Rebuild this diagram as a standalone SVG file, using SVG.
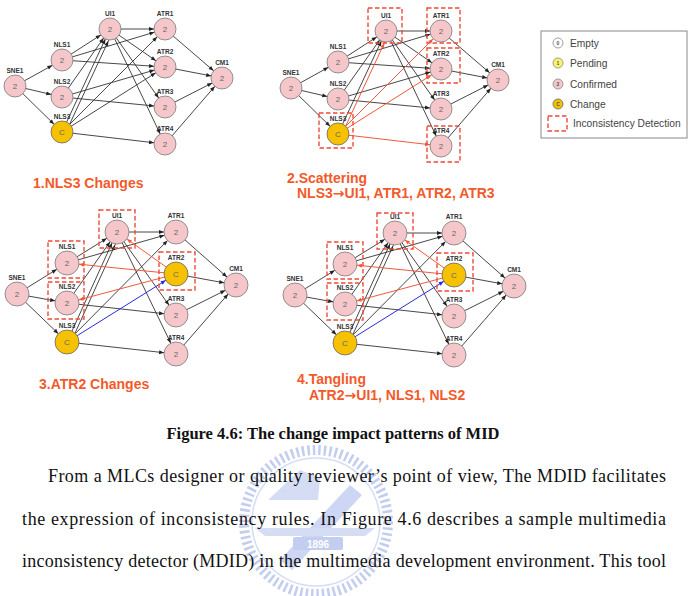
<svg xmlns="http://www.w3.org/2000/svg" width="688" height="596" viewBox="0 0 688 596">
<style>
.e{stroke:#333;stroke-width:0.9;fill:none}
.er{stroke:#f05a3c;stroke-width:1;fill:none}
.eb{stroke:#2a2ae0;stroke-width:1;fill:none}
.n circle{fill:#f5c6ca;stroke:#7a7a7a;stroke-width:0.8}
.c circle{fill:#f6c100;stroke:#666;stroke-width:0.8}
.lbl{font-family:"Liberation Sans",Arial,sans-serif;font-weight:bold;font-size:6.5px;fill:#333;text-anchor:middle}
.num{font-family:"Liberation Sans",Arial,sans-serif;font-size:8px;fill:#666;text-anchor:middle}
.box{fill:none;stroke:#ee4b3a;stroke-width:1.4;stroke-dasharray:4.5 2.5}
.title{font-family:"Liberation Sans",Arial,sans-serif;font-weight:bold;font-size:14px;fill:#f25a2a}
.arr{font-family:"DejaVu Sans",sans-serif;font-weight:bold}
.leg{font-family:"Liberation Sans",Arial,sans-serif;font-size:10.2px;fill:#444}
.legn{font-family:"Liberation Sans",Arial,sans-serif;font-weight:bold;font-size:5px;fill:#555;text-anchor:middle}
.body{font-family:"Liberation Serif","Times New Roman",serif;font-size:18px;fill:#111}
.cap{font-family:"Liberation Serif","Times New Roman",serif;font-weight:bold;font-size:16.5px;fill:#111;text-anchor:middle}
</style>
<defs>
<marker id="ak11" markerUnits="userSpaceOnUse" markerWidth="8" markerHeight="8" refX="11" refY="0" orient="auto" style="overflow:visible"><path d="M-5,-2 L0,0 L-5,2 z" fill="#222"/></marker>
<marker id="ar11" markerUnits="userSpaceOnUse" markerWidth="8" markerHeight="8" refX="11" refY="0" orient="auto" style="overflow:visible"><path d="M-5,-2 L0,0 L-5,2 z" fill="#f05a3c"/></marker>
<marker id="ak12" markerUnits="userSpaceOnUse" markerWidth="8" markerHeight="8" refX="12" refY="0" orient="auto" style="overflow:visible"><path d="M-5,-2 L0,0 L-5,2 z" fill="#222"/></marker>
<marker id="ar12" markerUnits="userSpaceOnUse" markerWidth="8" markerHeight="8" refX="12" refY="0" orient="auto" style="overflow:visible"><path d="M-5,-2 L0,0 L-5,2 z" fill="#f05a3c"/></marker>
<marker id="ab12" markerUnits="userSpaceOnUse" markerWidth="8" markerHeight="8" refX="12" refY="0" orient="auto" style="overflow:visible"><path d="M-5,-2 L0,0 L-5,2 z" fill="#2a2ae0"/></marker>
</defs>
<rect width="688" height="596" fill="#fff"/>

<!-- watermark -->
<g id="watermark" opacity="0.7">
<circle cx="316" cy="522" r="72" fill="none" stroke="#a9b9ea" stroke-width="10" stroke-dasharray="2.5 3"/>
<circle cx="316" cy="522" r="64" fill="none" stroke="#c4cff2" stroke-width="1.5"/>
<path d="M268,500 L300,470 L320,478 L318,500 Z" fill="#c4cff2"/>
<path d="M280,560 L350,485 L362,495 L292,570 Z" fill="#b8c6f0"/>
<path d="M255,528 L375,528 L365,536 L265,536 Z" fill="#c4cff2"/>
<rect x="293" y="537" width="50" height="13" rx="2" fill="#a9b9ea"/>
<text x="318" y="547.5" font-family="Liberation Sans,Arial,sans-serif" font-weight="bold" font-size="10" fill="#fff" text-anchor="middle">1896</text>
</g>

<g id="connectors">
<g id="p1-edges" class="e" marker-end="url(#ak11)">
<line x1="15" y1="86" x2="62" y2="60"/>
<line x1="15" y1="86" x2="62" y2="97"/>
<line x1="15" y1="86" x2="62" y2="132"/>
<line x1="62" y1="60" x2="110" y2="29"/>
<line x1="62" y1="60" x2="165" y2="29"/>
<line x1="62" y1="60" x2="165" y2="67"/>
<line x1="62" y1="97" x2="110" y2="29"/>
<line x1="62" y1="97" x2="165" y2="67"/>
<line x1="62" y1="97" x2="165" y2="107"/>
<line x1="62" y1="132" x2="110" y2="29"/>
<line x1="66" y1="132" x2="113" y2="31"/>
<line x1="62" y1="132" x2="165" y2="29"/>
<line x1="62" y1="132" x2="165" y2="67"/>
<line x1="62" y1="132" x2="165" y2="144"/>
<line x1="110" y1="29" x2="165" y2="29"/>
<line x1="110" y1="29" x2="165" y2="67"/>
<line x1="110" y1="29" x2="165" y2="107"/>
<line x1="110" y1="29" x2="165" y2="144"/>
<line x1="165" y1="29" x2="222" y2="78"/>
<line x1="165" y1="67" x2="222" y2="78"/>
<line x1="165" y1="107" x2="222" y2="78"/>
<line x1="165" y1="144" x2="222" y2="78"/>
</g>
<g id="p2-edges" transform="translate(276,2)">
<g class="e" marker-end="url(#ak11)">
<line x1="15" y1="86" x2="62" y2="60"/>
<line x1="15" y1="86" x2="62" y2="97"/>
<line x1="15" y1="86" x2="62" y2="132"/>
<line x1="62" y1="60" x2="110" y2="29"/>
<line x1="62" y1="60" x2="165" y2="29"/>
<line x1="62" y1="60" x2="165" y2="67"/>
<line x1="62" y1="97" x2="110" y2="29"/>
<line x1="62" y1="97" x2="165" y2="67"/>
<line x1="62" y1="97" x2="165" y2="107"/>
<line x1="62" y1="132" x2="110" y2="29"/>
<line x1="110" y1="29" x2="165" y2="29"/>
<line x1="110" y1="29" x2="165" y2="67"/>
<line x1="110" y1="29" x2="165" y2="107"/>
<line x1="110" y1="29" x2="165" y2="144"/>
<line x1="165" y1="29" x2="222" y2="78"/>
<line x1="165" y1="67" x2="222" y2="78"/>
<line x1="165" y1="107" x2="222" y2="78"/>
<line x1="165" y1="144" x2="222" y2="78"/>
</g>
<g class="er" marker-end="url(#ar11)">
<line x1="66" y1="132" x2="113" y2="31"/>
<line x1="62" y1="132" x2="165" y2="29"/>
<line x1="62" y1="132" x2="165" y2="67"/>
<line x1="62" y1="132" x2="165" y2="144"/>
</g>
</g>
<g id="p3-edges">
<g class="e" marker-end="url(#ak12)">
<line x1="17" y1="294" x2="67" y2="263"/>
<line x1="17" y1="294" x2="67" y2="303"/>
<line x1="17" y1="294" x2="67" y2="342"/>
<line x1="67" y1="263" x2="117" y2="232"/>
<line x1="67" y1="263" x2="176" y2="232"/>
<line x1="67" y1="303" x2="117" y2="232"/>
<line x1="67" y1="303" x2="176" y2="315"/>
<line x1="67" y1="342" x2="117" y2="232"/>
<line x1="71" y1="342" x2="120" y2="234"/>
<line x1="67" y1="342" x2="176" y2="232"/>
<line x1="67" y1="342" x2="176" y2="354"/>
<line x1="117" y1="232" x2="176" y2="232"/>
<line x1="117" y1="232" x2="176" y2="315"/>
<line x1="117" y1="232" x2="176" y2="354"/>
<line x1="176" y1="232" x2="236" y2="285"/>
<line x1="176" y1="274" x2="236" y2="285"/>
<line x1="176" y1="315" x2="236" y2="285"/>
<line x1="176" y1="354" x2="236" y2="285"/>
</g>
<g class="er" marker-end="url(#ar12)">
<line x1="176" y1="274" x2="117" y2="232"/>
<line x1="176" y1="274" x2="67" y2="263"/>
<line x1="176" y1="274" x2="67" y2="303"/>
</g>
<line class="eb" x1="67" y1="342" x2="176" y2="274" marker-end="url(#ab12)"/>
</g>
<g id="p4-edges" transform="translate(278,1)">
<g class="e" marker-end="url(#ak12)">
<line x1="17" y1="294" x2="67" y2="263"/>
<line x1="17" y1="294" x2="67" y2="303"/>
<line x1="17" y1="294" x2="67" y2="342"/>
<line x1="67" y1="263" x2="117" y2="232"/>
<line x1="67" y1="263" x2="176" y2="232"/>
<line x1="67" y1="303" x2="117" y2="232"/>
<line x1="67" y1="303" x2="176" y2="315"/>
<line x1="67" y1="342" x2="117" y2="232"/>
<line x1="71" y1="342" x2="120" y2="234"/>
<line x1="67" y1="342" x2="176" y2="232"/>
<line x1="67" y1="342" x2="176" y2="354"/>
<line x1="117" y1="232" x2="176" y2="232"/>
<line x1="117" y1="232" x2="176" y2="315"/>
<line x1="117" y1="232" x2="176" y2="354"/>
<line x1="176" y1="232" x2="236" y2="285"/>
<line x1="176" y1="274" x2="236" y2="285"/>
<line x1="176" y1="315" x2="236" y2="285"/>
<line x1="176" y1="354" x2="236" y2="285"/>
</g>
<g class="er" marker-end="url(#ar12)">
<line x1="176" y1="274" x2="117" y2="232"/>
<line x1="176" y1="274" x2="67" y2="263"/>
<line x1="176" y1="274" x2="67" y2="303"/>
</g>
<line class="eb" x1="67" y1="342" x2="176" y2="274" marker-end="url(#ab12)"/>
</g>
</g>

<g id="panel1">
<g id="p1-SNE1" class="n"><circle cx="15" cy="86" r="11"/><text class="lbl" x="15" y="73">SNE1</text><text class="num" x="15" y="89">2</text></g>
<g id="p1-NLS1" class="n"><circle cx="62" cy="60" r="11"/><text class="lbl" x="62" y="47">NLS1</text><text class="num" x="62" y="63">2</text></g>
<g id="p1-NLS2" class="n"><circle cx="62" cy="97" r="11"/><text class="lbl" x="62" y="84">NLS2</text><text class="num" x="62" y="100">2</text></g>
<g id="p1-NLS3" class="c"><circle cx="62" cy="132" r="11"/><text class="lbl" x="62" y="119">NLS3</text><text class="num" x="62" y="135">C</text></g>
<g id="p1-UI1" class="n"><circle cx="110" cy="29" r="11"/><text class="lbl" x="110" y="16">UI1</text><text class="num" x="110" y="32">2</text></g>
<g id="p1-ATR1" class="n"><circle cx="165" cy="29" r="11"/><text class="lbl" x="165" y="16">ATR1</text><text class="num" x="165" y="32">2</text></g>
<g id="p1-ATR2" class="n"><circle cx="165" cy="67" r="11"/><text class="lbl" x="165" y="54">ATR2</text><text class="num" x="165" y="70">2</text></g>
<g id="p1-ATR3" class="n"><circle cx="165" cy="107" r="11"/><text class="lbl" x="165" y="94">ATR3</text><text class="num" x="165" y="110">2</text></g>
<g id="p1-ATR4" class="n"><circle cx="165" cy="144" r="11"/><text class="lbl" x="165" y="131">ATR4</text><text class="num" x="165" y="147">2</text></g>
<g id="p1-CM1" class="n"><circle cx="222" cy="78" r="11"/><text class="lbl" x="222" y="65">CM1</text><text class="num" x="222" y="81">2</text></g>
<text class="title" x="33" y="188">1.NLS3 Changes</text>
</g>

<g id="panel2" transform="translate(276,2)">
<g id="p2-SNE1" class="n"><circle cx="15" cy="86" r="11"/><text class="lbl" x="15" y="73">SNE1</text><text class="num" x="15" y="89">2</text></g>
<g id="p2-NLS1" class="n"><circle cx="62" cy="60" r="11"/><text class="lbl" x="62" y="47">NLS1</text><text class="num" x="62" y="63">2</text></g>
<g id="p2-NLS2" class="n"><circle cx="62" cy="97" r="11"/><text class="lbl" x="62" y="84">NLS2</text><text class="num" x="62" y="100">2</text></g>
<g id="p2-NLS3" class="c"><circle cx="62" cy="132" r="11"/><text class="lbl" x="62" y="119">NLS3</text><text class="num" x="62" y="135">C</text></g>
<g id="p2-UI1" class="n"><circle cx="110" cy="29" r="11"/><text class="lbl" x="110" y="16">UI1</text><text class="num" x="110" y="32">2</text></g>
<g id="p2-ATR1" class="n"><circle cx="165" cy="29" r="11"/><text class="lbl" x="165" y="16">ATR1</text><text class="num" x="165" y="32">2</text></g>
<g id="p2-ATR2" class="n"><circle cx="165" cy="67" r="11"/><text class="lbl" x="165" y="54">ATR2</text><text class="num" x="165" y="70">2</text></g>
<g id="p2-ATR3" class="n"><circle cx="165" cy="107" r="11"/><text class="lbl" x="165" y="94">ATR3</text><text class="num" x="165" y="110">2</text></g>
<g id="p2-ATR4" class="n"><circle cx="165" cy="144" r="11"/><text class="lbl" x="165" y="131">ATR4</text><text class="num" x="165" y="147">2</text></g>
<g id="p2-CM1" class="n"><circle cx="222" cy="78" r="11"/><text class="lbl" x="222" y="65">CM1</text><text class="num" x="222" y="81">2</text></g>
<rect class="box" x="92" y="6" width="34" height="35"/>
<rect class="box" x="151" y="6" width="33" height="35"/>
<rect class="box" x="151" y="46" width="33" height="35"/>
<rect class="box" x="43" y="111" width="34" height="35"/>
<rect class="box" x="151" y="124" width="33" height="36"/>
</g>
<text class="title" x="287" y="183">2.Scattering</text>
<text class="title" x="297" y="198">NLS3<tspan class="arr">→</tspan>UI1, ATR1, ATR2, ATR3</text>

<g id="legend">
<rect x="541" y="31" width="146" height="107" fill="#fff" stroke="#888" stroke-width="1"/>
<g id="leg-empty"><circle cx="558" cy="43" r="5" fill="#fff" stroke="#888" stroke-width="0.8"/><text class="legn" x="558" y="44.8">0</text><text class="leg" x="570" y="46.5">Empty</text></g>
<g id="leg-pending"><circle cx="558" cy="63" r="5" fill="#f8f56a" stroke="#888" stroke-width="0.8"/><text class="legn" x="558" y="64.8">1</text><text class="leg" x="570" y="66.5">Pending</text></g>
<g id="leg-confirmed"><circle cx="558" cy="84" r="5" fill="#f5c6ca" stroke="#888" stroke-width="0.8"/><text class="legn" x="558" y="85.8">2</text><text class="leg" x="570" y="87.5">Confirmed</text></g>
<g id="leg-change"><circle cx="558" cy="104" r="5" fill="#f6c100" stroke="#666" stroke-width="0.8"/><text class="legn" x="558" y="105.8">C</text><text class="leg" x="570" y="107.5">Change</text></g>
<g id="leg-incons"><rect class="box" x="548" y="116" width="19" height="15"/><text class="leg" x="573" y="126.5">Inconsistency Detection</text></g>
</g>

<g id="panel3">
<g id="p3-SNE1" class="n"><circle cx="17" cy="294" r="12"/><text class="lbl" x="17" y="280">SNE1</text><text class="num" x="17" y="297">2</text></g>
<g id="p3-NLS1" class="n"><circle cx="67" cy="263" r="12"/><text class="lbl" x="67" y="249">NLS1</text><text class="num" x="67" y="266">2</text></g>
<g id="p3-NLS2" class="n"><circle cx="67" cy="303" r="12"/><text class="lbl" x="67" y="289">NLS2</text><text class="num" x="67" y="306">2</text></g>
<g id="p3-NLS3" class="c"><circle cx="67" cy="342" r="12"/><text class="lbl" x="67" y="328">NLS3</text><text class="num" x="67" y="345">C</text></g>
<g id="p3-UI1" class="n"><circle cx="117" cy="232" r="12"/><text class="lbl" x="117" y="218">UI1</text><text class="num" x="117" y="235">2</text></g>
<g id="p3-ATR1" class="n"><circle cx="176" cy="232" r="12"/><text class="lbl" x="176" y="218">ATR1</text><text class="num" x="176" y="235">2</text></g>
<g id="p3-ATR2" class="c"><circle cx="176" cy="274" r="12"/><text class="lbl" x="176" y="260">ATR2</text><text class="num" x="176" y="277">C</text></g>
<g id="p3-ATR3" class="n"><circle cx="176" cy="315" r="12"/><text class="lbl" x="176" y="301">ATR3</text><text class="num" x="176" y="318">2</text></g>
<g id="p3-ATR4" class="n"><circle cx="176" cy="354" r="12"/><text class="lbl" x="176" y="340">ATR4</text><text class="num" x="176" y="357">2</text></g>
<g id="p3-CM1" class="n"><circle cx="236" cy="285" r="12"/><text class="lbl" x="236" y="271">CM1</text><text class="num" x="236" y="288">2</text></g>
<rect class="box" x="99" y="210" width="36" height="38"/>
<rect class="box" x="48" y="241" width="36" height="37"/>
<rect class="box" x="48" y="282" width="36" height="37"/>
<rect class="box" x="159" y="252" width="36" height="38"/>
<text class="title" x="39" y="389">3.ATR2 Changes</text>
</g>

<g id="panel4" transform="translate(278,1)">
<g id="p4-SNE1" class="n"><circle cx="17" cy="294" r="12"/><text class="lbl" x="17" y="280">SNE1</text><text class="num" x="17" y="297">2</text></g>
<g id="p4-NLS1" class="n"><circle cx="67" cy="263" r="12"/><text class="lbl" x="67" y="249">NLS1</text><text class="num" x="67" y="266">2</text></g>
<g id="p4-NLS2" class="n"><circle cx="67" cy="303" r="12"/><text class="lbl" x="67" y="289">NLS2</text><text class="num" x="67" y="306">2</text></g>
<g id="p4-NLS3" class="c"><circle cx="67" cy="342" r="12"/><text class="lbl" x="67" y="328">NLS3</text><text class="num" x="67" y="345">C</text></g>
<g id="p4-UI1" class="n"><circle cx="117" cy="232" r="12"/><text class="lbl" x="117" y="218">UI1</text><text class="num" x="117" y="235">2</text></g>
<g id="p4-ATR1" class="n"><circle cx="176" cy="232" r="12"/><text class="lbl" x="176" y="218">ATR1</text><text class="num" x="176" y="235">2</text></g>
<g id="p4-ATR2" class="c"><circle cx="176" cy="274" r="12"/><text class="lbl" x="176" y="260">ATR2</text><text class="num" x="176" y="277">C</text></g>
<g id="p4-ATR3" class="n"><circle cx="176" cy="315" r="12"/><text class="lbl" x="176" y="301">ATR3</text><text class="num" x="176" y="318">2</text></g>
<g id="p4-ATR4" class="n"><circle cx="176" cy="354" r="12"/><text class="lbl" x="176" y="340">ATR4</text><text class="num" x="176" y="357">2</text></g>
<g id="p4-CM1" class="n"><circle cx="236" cy="285" r="12"/><text class="lbl" x="236" y="271">CM1</text><text class="num" x="236" y="288">2</text></g>
<rect class="box" x="99" y="212" width="36" height="36"/>
<rect class="box" x="49" y="241" width="36" height="37"/>
<rect class="box" x="49" y="282" width="36" height="37"/>
<rect class="box" x="159" y="252" width="36" height="38"/>
</g>
<text class="title" x="297" y="384">4.Tangling</text>
<text class="title" x="309" y="400">ATR2<tspan class="arr">→</tspan>UI1, NLS1, NLS2</text>

<text class="cap" x="333" y="439">Figure  4.6: The change impact patterns of MID</text>
<text class="body" x="48" y="482" textLength="618" lengthAdjust="spacing">From a MLCs designer or quality reviewer’s point of view, The MDID facilitates</text>
<text class="body" x="22" y="525" textLength="644" lengthAdjust="spacing">the expression of inconsistency rules. In Figure 4.6 describes a sample multimedia</text>
<text class="body" x="22" y="567" textLength="644" lengthAdjust="spacing">inconsistency detector (MDID) in the multimedia development environment. This tool</text>
</svg>
